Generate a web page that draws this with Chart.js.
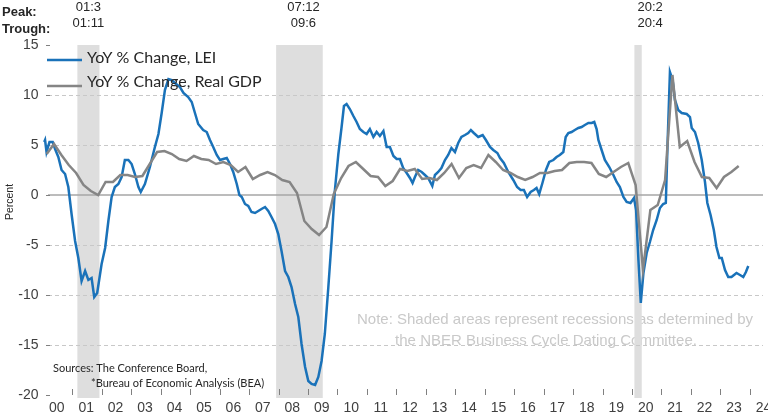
<!DOCTYPE html>
<html><head><meta charset="utf-8">
<script src="https://cdn.jsdelivr.net/npm/chart.js@4"></script>
<style>html,body{margin:0;padding:0;background:#fff;}#wrap{width:768px;height:415px;position:relative;}</style>
</head><body><div id="wrap"><canvas id="c"></canvas></div>
<script>
// ---- data ----
const leiDates = [
2000.04,2000.07,2000.12,2000.22,2000.33,2000.41,2000.52,2000.63,2000.75,2000.86,2000.97,
2001.09,2001.20,2001.31,2001.43,2001.54,2001.65,2001.74,2001.84,2001.99,
2002.11,2002.22,2002.33,2002.44,2002.56,2002.67,2002.78,2002.90,
2003.01,2003.12,2003.24,2003.32,2003.46,2003.63,2003.80,2003.92,
2004.03,2004.14,2004.26,2004.37,2004.48,2004.65,2004.77,2004.93,
2005.05,2005.16,2005.27,2005.44,2005.56,2005.67,2005.78,2005.90,
2006.01,2006.12,2006.24,2006.35,2006.46,2006.58,2006.67,2006.75,2006.86,2006.97,
2007.08,2007.20,2007.31,2007.42,2007.54,2007.65,2007.76,2007.88,2007.99,
2008.10,2008.22,2008.33,2008.44,2008.56,2008.67,2008.78,2008.90,
2009.01,2009.12,2009.24,2009.35,2009.46,2009.57,2009.69,2009.80,2009.91,
2010.03,2010.14,2010.22,2010.31,2010.42,2010.54,2010.65,2010.76,2010.88,2010.99,
2011.10,2011.22,2011.33,2011.44,2011.56,2011.67,2011.78,2011.90,
2012.01,2012.12,2012.23,2012.35,2012.46,2012.55,2012.63,2012.74,2012.86,2012.97,
2013.08,2013.22,2013.31,2013.42,2013.53,2013.65,2013.76,2013.87,2013.99,
2014.10,2014.21,2014.33,2014.44,2014.53,2014.63,2014.78,2014.93,
2015.04,2015.18,2015.29,2015.43,2015.52,2015.65,2015.80,2015.97,
2016.10,2016.22,2016.33,2016.44,2016.56,2016.67,2016.76,2016.85,2016.96,
2017.08,2017.19,2017.33,2017.44,2017.55,2017.67,2017.75,2017.84,2017.95,
2018.06,2018.18,2018.29,2018.40,2018.52,2018.63,2018.72,2018.80,2018.86,2018.97,
2019.08,2019.23,2019.37,2019.48,2019.59,2019.71,2019.82,2019.95,
2020.07,2020.14,2020.22,2020.30,2020.39,2020.50,2020.61,2020.72,2020.84,2020.95,
2021.06,2021.15,2021.21,2021.29,2021.38,2021.46,2021.57,2021.69,2021.86,2021.97,
2022.03,2022.14,2022.25,2022.37,2022.48,2022.56,2022.67,2022.78,2022.87,2022.97,
2023.05,2023.16,2023.27,2023.38,2023.55,2023.67,2023.78,2023.87,2023.95
];
const leiValues = [
5.3,5.5,4.3,5.3,5.3,4.6,3.8,2.5,2.1,0.8,-1.9,
-4.6,-6.3,-8.6,-7.6,-8.5,-8.3,-10.2,-9.8,-6.9,
-5.3,-2.6,-0.2,0.8,1.1,1.8,3.5,3.5,
3.1,2.1,0.8,0.3,1.1,2.8,4.8,6.1,
8.2,10.5,11.6,11.5,11.2,10.8,10.2,9.8,
9.3,8.2,7.1,6.5,6.3,5.5,4.8,4.0,
3.5,3.6,3.7,3.1,2.3,1.1,0.0,-0.2,-0.9,-1.1,
-1.7,-1.8,-1.6,-1.4,-1.2,-1.6,-2.2,-2.9,-3.9,
-5.6,-7.6,-8.2,-9.2,-10.9,-12.2,-14.9,-17.2,
-18.6,-18.9,-19.0,-18.2,-16.6,-13.9,-9.2,-4.6,0.4,
4.1,6.8,8.9,9.1,8.6,7.9,7.3,6.6,6.3,6.1,
6.6,5.8,6.3,5.9,6.4,4.8,4.8,3.9,
3.6,3.6,2.7,2.2,1.7,1.2,1.8,2.5,2.3,2.0,
1.7,0.9,2.0,2.3,2.7,3.5,4.0,4.7,4.3,
5.2,5.8,6.0,6.2,6.5,6.2,5.8,6.0,
5.5,4.8,4.5,4.2,3.7,3.2,2.3,1.5,
0.8,0.5,0.5,-0.2,0.3,0.5,0.7,0.1,1.2,
2.5,3.3,3.5,3.8,4.0,4.3,5.8,6.2,6.3,
6.5,6.7,6.8,7.0,7.2,7.2,7.3,6.6,5.5,4.5,
3.5,2.8,2.0,1.3,0.8,-0.2,-0.7,-0.8,
-0.3,-1.5,-6.5,-10.8,-7.8,-5.8,-4.7,-3.5,-2.5,-1.3,
-0.9,-0.8,5.2,12.3,11.5,9.5,8.5,8.2,8.1,7.8,
6.7,6.3,5.2,3.5,1.3,-0.8,-2.0,-3.5,-5.2,-6.3,
-6.3,-7.5,-8.2,-8.2,-7.8,-8.0,-8.2,-7.7,-7.1
];
const gdpFirstYear = 2000;
const gdpValues = [
4.1,5.1,4.0,3.0,   2.2,1.0,0.4,0.0,   1.3,1.3,2.0,2.0,   1.8,1.9,3.1,4.3,
4.4,4.1,3.6,3.4,   3.9,3.6,3.5,3.1,   3.3,3.0,2.3,2.8,   1.6,2.0,2.3,2.0,
1.5,1.3,0.2,-2.6,  -3.4,-4.0,-3.2,0.1, 1.7,2.9,3.3,2.6,   1.9,1.8,0.9,1.4,
2.6,2.4,2.6,1.6,   1.7,1.5,2.2,3.1,   1.7,2.7,3.0,2.7,   4.0,3.3,2.5,2.2,
1.8,1.5,1.8,2.2,   2.2,2.4,2.5,3.2,   3.3,3.3,3.2,2.1,   1.8,2.3,2.8,3.2,
1.0,-7.5,-1.5,-1.0, 1.5,12.0,4.8,5.4, 3.3,1.8,1.7,0.7,   1.8,2.3,2.9
];
const yTicks = [15,10,5,0,-5,-10,-15,-20];
const gridValues = [10,5,-5,-10,-15];
const yearLabels = ['00','01','02','03','04','05','06','07','08','09','10','11','12','13','14','15','16','17','18','19','20','21','22','23','24'];
const recessionStarts = [2001.167, 2007.917, 2020.083];
const recessionEnds   = [2001.917, 2009.5,   2020.333];
const peakLabels   = ['01:3','07:12','20:2'];
const troughLabels = ['01:11','09:6','20:4'];
const seriesNames = ['YoY % Change, LEI','YoY % Change, Real GDP'];
const noteLines = ['Note: Shaded areas represent recessions as determined by','the NBER Business Cycle Dating Committee.'];
const sourceLines = ['Sources: The Conference Board,','*Bureau of Economic Analysis (BEA)'];

const BLUE = '#1a72b9', GREY = '#858585';
const leiPoints = leiDates.map((d,i)=>({x:d,y:leiValues[i]}));
const gdpPoints = gdpValues.map((v,i)=>({x:gdpFirstYear + (i+0.5)/4, y:v}));

const deco = {
  id:'deco',
  beforeDatasetsDraw(chart){
    const {ctx, chartArea:a, scales:{x,y}} = chart;
    ctx.save();
    // note text
    ctx.fillStyle = '#c9c9c9';
    ctx.font = '15px "Liberation Sans", Arial, sans-serif';
    ctx.textBaseline = 'middle';
    ctx.textAlign = 'center';
    ctx.fillText(noteLines[0], 555, 320);
    ctx.fillText(noteLines[1], 546, 341);
    // shading
    ctx.fillStyle = '#dedede';
    recessionStarts.forEach((s,i)=>{
      const x0 = x.getPixelForValue(s), x1 = x.getPixelForValue(recessionEnds[i]);
      ctx.fillRect(x0, a.top, x1-x0, a.bottom - a.top + 3);
    });
    // grid
    ctx.strokeStyle = '#c8c8c8'; ctx.lineWidth = 1; ctx.setLineDash([4,3]);
    gridValues.forEach(v=>{
      const py = Math.round(y.getPixelForValue(v))+0.5;
      ctx.beginPath(); ctx.moveTo(48,py); ctx.lineTo(763,py); ctx.stroke();
    });
    ctx.setLineDash([]);
    ctx.strokeStyle = '#a6a6a6'; ctx.lineWidth = 1.6;
    const zy = y.getPixelForValue(0);
    ctx.beginPath(); ctx.moveTo(48,zy); ctx.lineTo(763,zy); ctx.stroke();
    // y ticks
    ctx.strokeStyle = '#808080'; ctx.lineWidth = 1;
    ctx.fillStyle = '#404040';
    ctx.font = '14px "Liberation Sans", Arial, sans-serif';
    ctx.textAlign = 'right';
    yTicks.forEach(v=>{
      const py = Math.round(y.getPixelForValue(v))+0.5;
      ctx.beginPath(); ctx.moveTo(46,py); ctx.lineTo(50,py); ctx.stroke();
      ctx.fillText(String(v), 38.5, py);
    });
    // x ticks and labels
    ctx.textAlign = 'center';
    yearLabels.forEach((lab,i)=>{
      const yr = 2000 + i;
      if (i>0){
        const px = Math.round(x.getPixelForValue(yr))+0.5;
        ctx.beginPath(); ctx.moveTo(px, a.bottom-6); ctx.lineTo(px, a.bottom); ctx.stroke();
      }
      ctx.fillText(lab, x.getPixelForValue(yr+0.5)-1, 408);
    });
    ctx.restore();
  },
  afterDatasetsDraw(chart){
    const {ctx, scales:{x}} = chart;
    ctx.save();
    // legend
    ctx.lineWidth = 2.5;
    [[BLUE,60,58],[GREY,86,82]].forEach(([c,ly,ty],i)=>{
      ctx.strokeStyle = c;
      ctx.beginPath(); ctx.moveTo(47,ly); ctx.lineTo(82,ly); ctx.stroke();
      ctx.fillStyle = '#262626';
      ctx.font = '16px Lato, "Open Sans", sans-serif';
      ctx.textAlign = 'left'; ctx.textBaseline = 'middle';
      ctx.fillText(seriesNames[i], 87, ty);
    });
    // peak / trough
    ctx.fillStyle = '#262626';
    ctx.font = 'bold 13px "Liberation Sans", Arial, sans-serif';
    ctx.textAlign = 'left';
    ctx.fillText('Peak:', 2, 12);
    ctx.fillText('Trough:', 2, 29);
    ctx.font = '13px "Liberation Sans", Arial, sans-serif';
    ctx.textAlign = 'center';
    const offs = [0,4,12];
    recessionStarts.forEach((s,i)=>{
      const cx = (x.getPixelForValue(s)+x.getPixelForValue(recessionEnds[i]))/2 + offs[i];
      ctx.fillText(peakLabels[i], cx, 7);
      ctx.fillText(troughLabels[i], cx, 23);
    });
    // sources
    ctx.font = '11px Lato, "Open Sans", sans-serif';
    ctx.textAlign = 'left';
    ctx.fillText(sourceLines[0], 53, 368);
    ctx.fillText(sourceLines[1], 91, 383);
    // y title
    ctx.translate(10, 202);
    ctx.rotate(-Math.PI/2);
    ctx.textAlign = 'center';
    ctx.font = '10.5px "Liberation Sans", Arial, sans-serif';
    ctx.fillText('Percent', 0, 0);
    ctx.restore();
  }
};

new Chart(document.getElementById('c'), {
  type:'line',
  data:{ datasets:[
    {label:seriesNames[1], data:gdpPoints, borderColor:GREY, borderWidth:2.5, pointRadius:0, tension:0},
    {label:seriesNames[0], data:leiPoints, borderColor:BLUE, borderWidth:2.5, pointRadius:0, tension:0}
  ]},
  options:{
    responsive:true, maintainAspectRatio:false, animation:false,
    layout:{padding:{left:43, top:45, right:0, bottom:20}},
    scales:{
      x:{type:'linear', min:2000, max:2024.62, display:false},
      y:{min:-20, max:15, display:false}
    },
    plugins:{legend:{display:false}, tooltip:{enabled:false}}
  },
  plugins:[deco]
});
</script></body></html>
